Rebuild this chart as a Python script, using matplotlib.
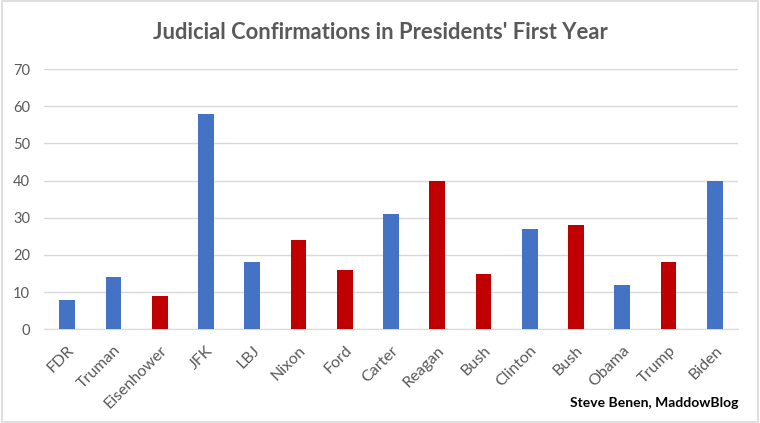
import matplotlib.pyplot as plt
from matplotlib.patches import Rectangle

presidents = ["FDR", "Truman", "Eisenhower", "JFK", "LBJ", "Nixon", "Ford", "Carter",
              "Reagan", "Bush", "Clinton", "Bush", "Obama", "Trump", "Biden"]
confirmations = [8, 14, 9, 58, 18, 24, 16, 31, 40, 15, 27, 28, 12, 18, 40]
party = ["D", "D", "R", "D", "D", "R", "R", "D", "R", "R", "D", "R", "D", "R", "D"]

colors = {"D": "#4472C4", "R": "#C00000"}
plt.rcParams['font.family'] = ['Lato', 'DejaVu Sans']

fig = plt.figure(figsize=(7.6, 4.23), dpi=100)
ax = fig.add_axes([0.058, 0.2215, 0.913, 0.615])

x = range(len(presidents))
ax.bar(x, confirmations, width=0.34, color=[colors[p] for p in party], zorder=3)

ax.set_ylim(0, 70)
ax.set_yticks(range(0, 71, 10))
ax.set_xlim(-0.5, len(presidents) - 0.5)
ax.set_xticks(list(x))
ax.set_xticklabels(presidents, rotation=45, ha="right", rotation_mode="anchor")
ax.grid(axis="y", color="#d9d9d9", linewidth=1, zorder=0)
for s in ["top", "right", "left"]:
    ax.spines[s].set_visible(False)
ax.spines["bottom"].set_color("#d9d9d9")
ax.tick_params(axis="both", length=0, colors="#595959")
ax.tick_params(axis="y", pad=10, labelsize=10.5)
ax.tick_params(axis="x", pad=10, labelsize=11.5)

fig.text(0.5, 0.922, "Judicial Confirmations in Presidents' First Year",
         ha="center", va="center", fontsize=15.8, fontweight="bold", color="#595959")
fig.text(0.971, 0.047, "Steve Benen, MaddowBlog", ha="right", va="center",
         fontsize=10, fontweight="bold", color="black")

fig.patches.append(Rectangle((0.003, 0.003), 0.994, 0.994, transform=fig.transFigure,
                             fill=False, edgecolor="#d9d9d9", linewidth=1.2))

fig.savefig("out.png", dpi=100)
